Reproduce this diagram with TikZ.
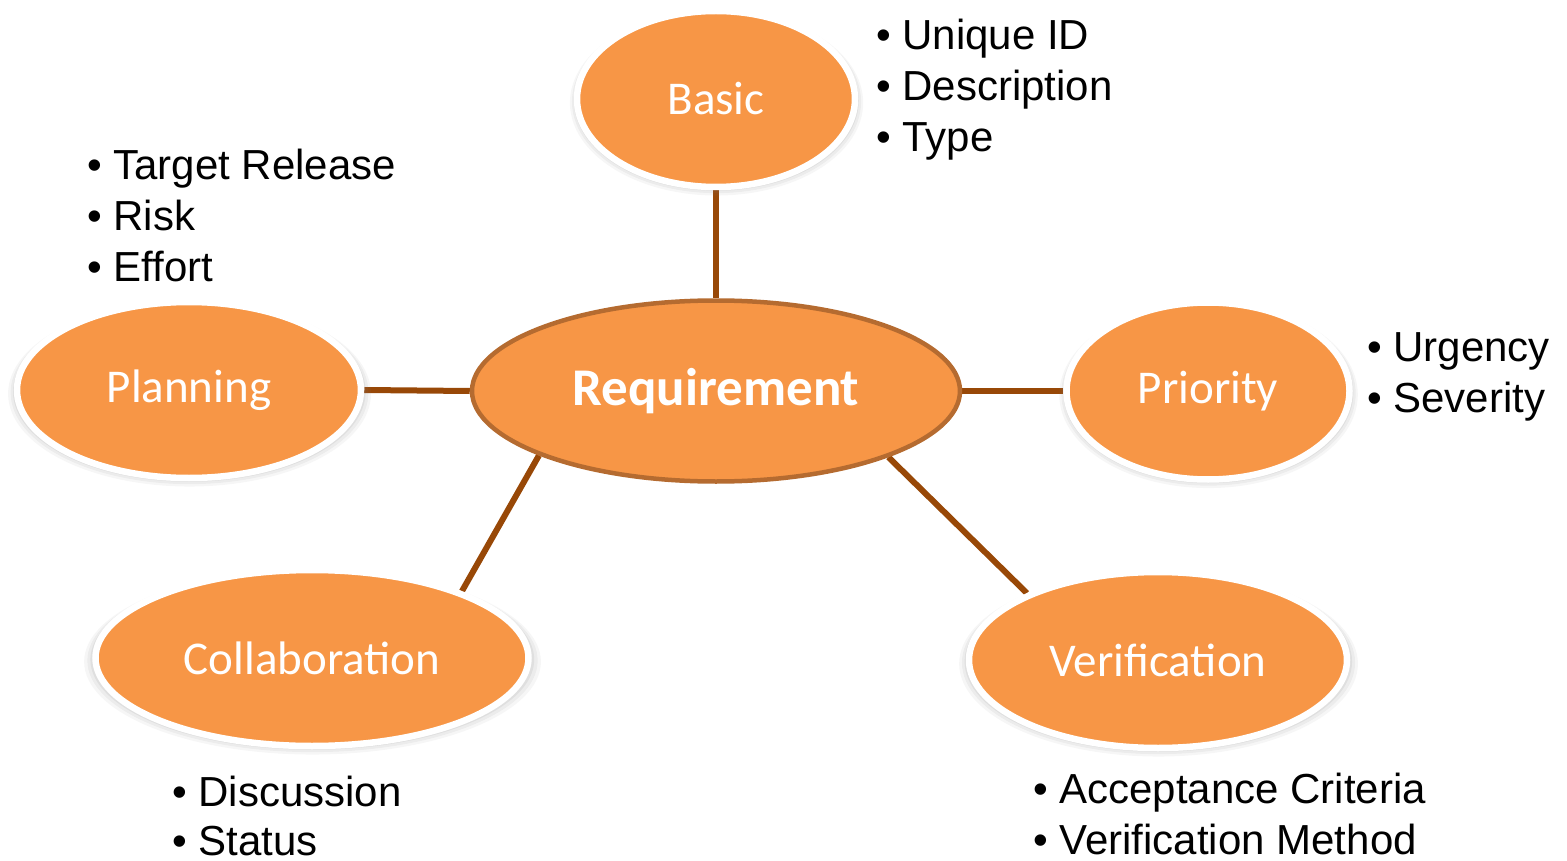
\documentclass[tikz,border=0pt]{standalone}
\usepackage{fontspec}
\setmainfont{Liberation Sans}
\newfontfamily\calfont{Carlito}
\usetikzlibrary{shapes.geometric,shadows,backgrounds}
\definecolor{orng}{HTML}{F79646}
\definecolor{linkc}{HTML}{984807}
\definecolor{reqline}{HTML}{B56B30}
\tikzset{
  bubble/.style={ellipse, fill=orng, draw=white, line width=6.5pt, inner sep=0pt,
    text=white, font=\calfont\fontsize{47}{47}\selectfont,
    drop shadow={opacity=0.07, shadow xshift=0.5pt, shadow yshift=-3.5pt, shadow scale=1.055},
    drop shadow={opacity=0.09, shadow xshift=0.5pt, shadow yshift=-2.5pt, shadow scale=1.04},
    drop shadow={opacity=0.12, shadow xshift=0.3pt, shadow yshift=-1.5pt, shadow scale=1.025}},
  central/.style={ellipse, fill=orng, draw=reqline, line width=4.5pt, inner sep=0pt,
    text=white, font=\calfont\bfseries\fontsize{53}{53}\selectfont},
  item/.style={anchor=base west, inner sep=0pt, font=\fontsize{42}{51}\selectfont},
  link/.style={draw=linkc, line width=6pt}
}
\begin{document}
\begin{tikzpicture}[x=1pt,y=-1pt]
\useasboundingbox (0,0) rectangle (1567,861);
\node[central, minimum width=488pt, minimum height=181pt] (req) at (716,391) {Requirement};
\node[bubble, minimum width=278pt, minimum height=176pt] (basic) at (716,99) {Basic};
\node[bubble, minimum width=344pt, minimum height=176pt] (plan) at (189,390) {Planning};
\node[bubble, minimum width=283pt, minimum height=177pt] (prio) at (1208,391) {Priority};
\node[bubble, minimum width=433pt, minimum height=176pt] (collab) at (312,658) {Collaboration};
\node[bubble, minimum width=378pt, minimum height=176pt] (verif) at (1158,660) {Verification};
\begin{scope}[on background layer]
\draw[link] (basic.south) -- (req.north);
\draw[link] (plan.east) -- (req.west);
\draw[link] (req.east) -- (prio.west);
\draw[link] (req.200.6) -- (collab.24);
\draw[link] (req.339.3) -- (verif.153.6);
\end{scope}
% lists
\node[item] (b1) at (876,50) {• Unique ID};
\node[item] (b2) at (876,101) {• Description};
\node[item] (b3) at (876,152) {• Type};
\node[item] (p1) at (87,180) {• Target Release};
\node[item] (p2) at (87,231) {• Risk};
\node[item] (p3) at (87,282) {• Effort};
\node[item] (u1) at (1367,361) {• Urgency};
\node[item] (u2) at (1367,412) {• Severity};
\node[item] (c1) at (172,806) {• Discussion};
\node[item] (c2) at (172,855) {• Status};
\node[item] (v1) at (1033,803) {• Acceptance Criteria};
\node[item] (v2) at (1033,854) {• Verification Method};
\end{tikzpicture}
\end{document}
